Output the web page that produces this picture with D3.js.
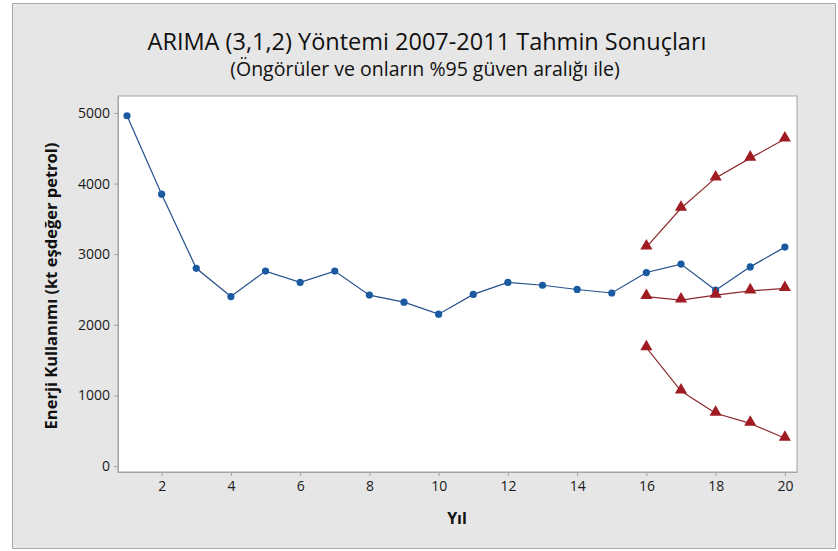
<!DOCTYPE html>
<html>
<head>
<meta charset="utf-8">
<script src="https://cdn.jsdelivr.net/npm/d3@7"></script>
<style>
	body { margin: 0; background: #fff; }
	svg { display: block; font-family: 'Open Sans', 'Noto Sans', sans-serif; }
</style>
</head>
<body>
<div id="canvas"></div>
<script>
// chart data
const years = d3.range(1, 21);
const actual = [4960, 3850, 2800, 2400, 2760, 2600, 2760, 2420, 2320, 2150,
	2430, 2600, 2560, 2500, 2450, 2740, 2860, 2490, 2820, 3100];
const forecastYears = [16, 17, 18, 19, 20];
const upper = [3100, 3650, 4080, 4360, 4630];
const forecast = [2400, 2350, 2420, 2480, 2515];
const lower = [1675, 1062, 746, 604, 392];
const xTicks = [2, 4, 6, 8, 10, 12, 14, 16, 18, 20];
const yTicks = [0, 1000, 2000, 3000, 4000, 5000];

const width = 838;
const height = 551;
const plot = { left: 118, right: 797, top: 96, bottom: 472 };

const svg = d3.select('#canvas').append('svg').attr('width', width).attr('height', height);

// outer panel
svg.append('rect')
	.attr('x', 12.5).attr('y', 3.5)
	.attr('width', 823).attr('height', 545)
	.attr('fill', '#e6e6e6')
	.attr('stroke', '#a8a8a8');

svg.append('rect')
	.attr('x', plot.left).attr('y', plot.top)
	.attr('width', plot.right - plot.left).attr('height', plot.bottom - plot.top)
	.attr('fill', '#fff')
	.attr('stroke', '#a3a3a3');

const xScale = d3.scaleLinear().domain([0.74, 20.35]).range([plot.left, plot.right]);
const yScale = d3.scaleLinear().domain([-85, 5240]).range([plot.bottom, plot.top]);

const xAxis = svg.append('g')
	.attr('transform', `translate(0, ${plot.bottom})`)
	.call(d3.axisBottom(xScale).tickValues(xTicks).tickSize(4).tickPadding(5).tickSizeOuter(0));
const yAxis = svg.append('g')
	.attr('transform', `translate(${plot.left}, 0)`)
	.call(d3.axisLeft(yScale).tickValues(yTicks).tickFormat(d3.format('d'))
		.tickSize(4).tickPadding(4).tickSizeOuter(0));

[xAxis, yAxis].forEach(ax => {
	ax.select('.domain').attr('stroke', '#a3a3a3');
	ax.selectAll('.tick line').attr('stroke', '#a3a3a3');
	ax.selectAll('.tick text')
		.attr('fill', '#1a1a1a')
		.style('font-size', '14px')
		.style('font-family', "'Open Sans', sans-serif");
});

const line = d3.line().x(d => xScale(d[0])).y(d => yScale(d[1]));

// actual series
const actualPts = years.map((y, i) => [y, actual[i]]);
svg.append('path')
	.attr('d', line(actualPts))
	.attr('fill', 'none')
	.attr('stroke', '#24508c')
	.attr('stroke-width', 1.2);
svg.append('g').selectAll('circle').data(actualPts).join('circle')
	.attr('cx', d => xScale(d[0]))
	.attr('cy', d => yScale(d[1]))
	.attr('r', 3.6)
	.attr('fill', '#1b5aa0');

// forecast + limits
const tri = d3.symbol().type(d3.symbolTriangle).size(64);
[upper, forecast, lower].forEach(series => {
	const pts = forecastYears.map((y, i) => [y, series[i]]);
	svg.append('path')
		.attr('d', line(pts))
		.attr('fill', 'none')
		.attr('stroke', '#8a2a2e')
		.attr('stroke-width', 1.2);
	svg.append('g').selectAll('path').data(pts).join('path')
		.attr('d', tri)
		.attr('transform', d => `translate(${xScale(d[0])}, ${yScale(d[1]) - 1})`)
		.attr('fill', '#a01b22');
});

// titles
svg.append('text')
	.attr('x', 427).attr('y', 50)
	.attr('text-anchor', 'middle')
	.style('font-size', '23.5px')
	.attr('fill', '#111')
	.text('ARIMA (3,1,2) Yöntemi 2007-2011 Tahmin Sonuçları');
svg.append('text')
	.attr('x', 425).attr('y', 76)
	.attr('text-anchor', 'middle')
	.style('font-size', '19.5px')
	.attr('fill', '#111')
	.text('(Öngörüler ve onların %95 güven aralığı ile)');

svg.append('text')
	.attr('x', 457).attr('y', 524)
	.attr('text-anchor', 'middle')
	.style('font-size', '16px')
	.style('font-weight', 'bold')
	.attr('fill', '#111')
	.text('Yıl');
svg.append('text')
	.attr('transform', 'translate(57, 286) rotate(-90)')
	.attr('text-anchor', 'middle')
	.style('font-size', '16.5px')
	.style('font-weight', 'bold')
	.attr('fill', '#111')
	.text('Enerji Kullanımı (kt eşdeğer petrol)');
</script>
</body>
</html>
